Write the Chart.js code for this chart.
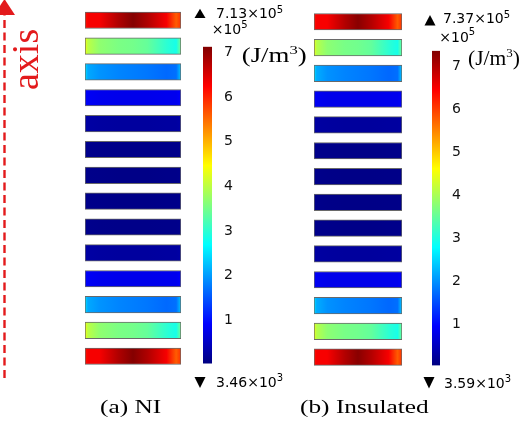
<!DOCTYPE html>
<html>
<head>
<meta charset="utf-8">
<script src="https://cdn.jsdelivr.net/npm/chart.js@4.4.1/dist/chart.umd.min.js"></script>
<style>
  body { margin: 0; background: #fff; }
  #fig { position: relative; width: 526px; height: 436px; overflow: hidden; }
  #fig canvas { position: absolute; }
  #notes { position: absolute; left: 0; top: 0; }
</style>
</head>
<body>
<div id="fig">
  <canvas id="layersNI" width="102" height="380" style="left:82px;top:0"></canvas>
  <canvas id="barNI" width="42" height="380" style="left:200px;top:0"></canvas>
  <canvas id="layersIns" width="94" height="380" style="left:311px;top:0"></canvas>
  <canvas id="barIns" width="41" height="380" style="left:429px;top:0"></canvas>
  <svg id="notes" width="526" height="436">
    <!-- axis arrow -->
    <line x1="4.5" y1="378" x2="4.5" y2="14" stroke="#e31a1c" stroke-width="2.4" stroke-dasharray="8 4.5"/>
    <polygon points="4.5,-1 -6,15 15,15" fill="#e31a1c"/>
    <text transform="translate(38.3,90) rotate(-90)" font-family="Liberation Serif" font-size="38" fill="#e31a1c">axis</text>

    <!-- (a) NI colorbar labels -->
    <polygon points="194.5,18 205.5,18 200,8.8" fill="#000"/>
    <text x="216" y="18.3" font-family="DejaVu Sans" font-size="14">7.13×10<tspan dy="-5.5" font-size="10">5</tspan></text>
    <text x="211.7" y="34" font-family="DejaVu Sans" font-size="14">×10<tspan dy="-6" font-size="10">5</tspan></text>
    <text transform="translate(241.7,62) scale(1.28,1)" font-family="Liberation Serif" font-size="21">(J/m<tspan dy="-8" font-size="13">3</tspan><tspan dy="8">)</tspan></text>
    <polygon points="194.5,377 205.5,377 200,388" fill="#000"/>
    <text x="216" y="387.3" font-family="DejaVu Sans" font-size="14">3.46×10<tspan dy="-6" font-size="10">3</tspan></text>

    <!-- (b) Insulated colorbar labels -->
    <polygon points="424.5,25.5 435.5,25.5 430,15" fill="#000"/>
    <text x="443" y="23.3" font-family="DejaVu Sans" font-size="14">7.37×10<tspan dy="-5.5" font-size="10">5</tspan></text>
    <text x="439.3" y="42" font-family="DejaVu Sans" font-size="14">×10<tspan dy="-7" font-size="10">5</tspan></text>
    <text transform="translate(468,65)" font-family="Liberation Serif" font-size="21.5">(J/m<tspan dy="-8" font-size="13">3</tspan><tspan dy="8">)</tspan></text>
    <polygon points="423.5,377 434.5,377 429,388.5" fill="#000"/>
    <text x="444" y="388" font-family="DejaVu Sans" font-size="14">3.59×10<tspan dy="-6" font-size="10">3</tspan></text>

    <!-- captions -->
    <text transform="translate(100,413) scale(1.3,1)" font-family="Liberation Serif" font-size="19.5">(a) NI</text>
    <text transform="translate(300,413) scale(1.3,1)" font-family="Liberation Serif" font-size="19.5">(b) Insulated</text>
  </svg>
</div>

<script>
// Layer stack, top to bottom
const layers = ['1', '2', '3', '4', '5', '6', '7', '8', '9', '10', '11', '12', '13', '14'];

// Sample positions across a layer (0 = left end, 1 = right end)
const profilePos = [0, 0.03, 0.15, 0.35, 0.5, 0.65, 0.85, 0.95, 1];

// Energy density along each layer, x10^5 J/m^3, (a) NI
const niProfiles = [
    [6.1, 6.3, 6.3, 6.8, 7.1, 6.8, 6.3, 5.6, 5.9],
    [4.4, 4.0, 3.7, 3.55, 3.5, 3.4, 3.0, 2.85, 3.5],
    [2.5, 2.1, 1.95, 1.85, 1.8, 1.75, 1.65, 1.7, 2.3],
    [0.95, 0.85, 0.8, 0.78, 0.78, 0.78, 0.8, 0.8, 0.9],
    [0.33, 0.28, 0.26, 0.25, 0.25, 0.25, 0.26, 0.26, 0.3],
    [0.15, 0.12, 0.11, 0.1, 0.1, 0.1, 0.11, 0.11, 0.13],
    [0.14, 0.11, 0.1, 0.09, 0.09, 0.09, 0.1, 0.1, 0.12],
    [0.14, 0.11, 0.1, 0.09, 0.09, 0.09, 0.1, 0.1, 0.12],
    [0.15, 0.12, 0.11, 0.1, 0.1, 0.1, 0.11, 0.11, 0.13],
    [0.33, 0.28, 0.26, 0.25, 0.25, 0.25, 0.26, 0.26, 0.3],
    [0.95, 0.85, 0.8, 0.78, 0.78, 0.78, 0.8, 0.8, 0.9],
    [2.5, 2.1, 1.95, 1.85, 1.8, 1.75, 1.65, 1.7, 2.3],
    [4.4, 4.0, 3.7, 3.55, 3.5, 3.4, 3.0, 2.85, 3.5],
    [6.1, 6.3, 6.3, 6.8, 7.1, 6.8, 6.3, 5.6, 5.9]
];

// Energy density along each layer, x10^5 J/m^3, (b) Insulated
const insProfiles = [
    [6.3, 6.5, 6.5, 7.0, 7.3, 7.0, 6.5, 5.8, 6.1],
    [4.5, 4.1, 3.8, 3.65, 3.6, 3.5, 3.1, 2.95, 3.6],
    [2.6, 2.2, 2.0, 1.9, 1.85, 1.8, 1.7, 1.75, 2.4],
    [0.95, 0.85, 0.8, 0.8, 0.8, 0.8, 0.82, 0.82, 0.92],
    [0.33, 0.28, 0.26, 0.25, 0.25, 0.25, 0.26, 0.26, 0.3],
    [0.15, 0.12, 0.11, 0.1, 0.1, 0.1, 0.11, 0.11, 0.13],
    [0.14, 0.11, 0.1, 0.09, 0.09, 0.09, 0.1, 0.1, 0.12],
    [0.14, 0.11, 0.1, 0.09, 0.09, 0.09, 0.1, 0.1, 0.12],
    [0.15, 0.12, 0.11, 0.1, 0.1, 0.1, 0.11, 0.11, 0.13],
    [0.33, 0.28, 0.26, 0.25, 0.25, 0.25, 0.26, 0.26, 0.3],
    [0.95, 0.85, 0.8, 0.8, 0.8, 0.8, 0.82, 0.82, 0.92],
    [2.6, 2.2, 2.0, 1.9, 1.85, 1.8, 1.7, 1.75, 2.4],
    [4.5, 4.1, 3.8, 3.65, 3.6, 3.5, 3.1, 2.95, 3.6],
    [6.3, 6.5, 6.5, 7.0, 7.3, 7.0, 6.5, 5.8, 6.1]
];

// Colour range (x10^5 J/m^3) and colorbar ticks
const niMin = 0.0346, niMax = 7.13;
const insMin = 0.0359, insMax = 7.37;
const cbTicks = [1, 2, 3, 4, 5, 6, 7];

// jet colormap knots
const jetKnots = [0, 0.125, 0.375, 0.625, 0.875, 1];

function jet(v, lo, hi) {
    const t = Math.min(1, Math.max(0, (v - lo) / (hi - lo)));
    const c = k => Math.round(255 * Math.min(1, Math.max(0, 1.5 - Math.abs(4 * t - k))));
    return `rgb(${c(3)},${c(2)},${c(1)})`;
}

function layerGradient(ctx, profiles, lo, hi) {
    const chart = ctx.chart;
    if (!chart.chartArea) return 'transparent';
    const x = chart.scales.x;
    const vals = profiles[ctx.dataIndex];
    const g = chart.ctx.createLinearGradient(x.getPixelForValue(0), 0, x.getPixelForValue(1), 0);
    profilePos.forEach((p, k) => g.addColorStop(p, jet(vals[k], lo, hi)));
    return g;
}

function barGradient(ctx, lo, hi) {
    const chart = ctx.chart;
    if (!chart.chartArea) return 'transparent';
    const y = chart.scales.y;
    const g = chart.ctx.createLinearGradient(0, y.getPixelForValue(lo), 0, y.getPixelForValue(hi));
    jetKnots.forEach(t => g.addColorStop(t, jet(lo + t * (hi - lo), lo, hi)));
    return g;
}

// Stack of layers drawn as floating horizontal bars
function makeLayerChart(id, profiles, lo, hi, padTop, padBottom) {
    return new Chart(document.getElementById(id), {
        type: 'bar',
        data: {
            labels: layers,
            datasets: [{
                data: layers.map(() => [0, 1]),
                backgroundColor: ctx => layerGradient(ctx, profiles, lo, hi),
                borderColor: 'rgba(55,55,55,0.75)',
                borderWidth: 1,
                borderSkipped: false,
                barThickness: 16.5
            }]
        },
        options: {
            indexAxis: 'y',
            responsive: false,
            animation: false,
            devicePixelRatio: 1,
            layout: { padding: { left: 3, right: 3, top: padTop, bottom: padBottom } },
            scales: {
                x: { type: 'linear', min: 0, max: 1, display: false },
                y: { display: false }
            },
            plugins: { legend: { display: false }, tooltip: { enabled: false } }
        }
    });
}

// Colorbar: one floating bar from min to max with ticks on the right
function makeColorbar(id, lo, hi, padTop, padBottom) {
    return new Chart(document.getElementById(id), {
        type: 'bar',
        data: {
            labels: ['cb'],
            datasets: [{
                data: [[lo, hi]],
                backgroundColor: ctx => barGradient(ctx, lo, hi),
                borderWidth: 0,
                barPercentage: 1,
                categoryPercentage: 1
            }]
        },
        options: {
            responsive: false,
            animation: false,
            devicePixelRatio: 1,
            layout: { padding: { left: 3, right: 0, top: padTop, bottom: padBottom } },
            scales: {
                x: { display: false },
                y: {
                    position: 'right',
                    min: lo,
                    max: hi,
                    afterBuildTicks: s => { s.ticks = cbTicks.map(v => ({ value: v })); },
                    afterFit: s => { s.width = 30; },
                    grid: { display: false },
                    border: { display: false },
                    ticks: {
                        padding: 4,
                        color: '#111',
                        font: { family: 'DejaVu Sans', size: 14 },
                        callback: v => String(v)
                    }
                }
            },
            plugins: { legend: { display: false }, tooltip: { enabled: false } }
        }
    });
}

makeLayerChart('layersNI', niProfiles, niMin, niMax, 7.3, 10.8);
makeColorbar('barNI', niMin, niMax, 46.7, 16.4);
makeLayerChart('layersIns', insProfiles, insMin, insMax, 8.85, 9.95);
makeColorbar('barIns', insMin, insMax, 50.8, 14.6);
</script>
</body>
</html>
